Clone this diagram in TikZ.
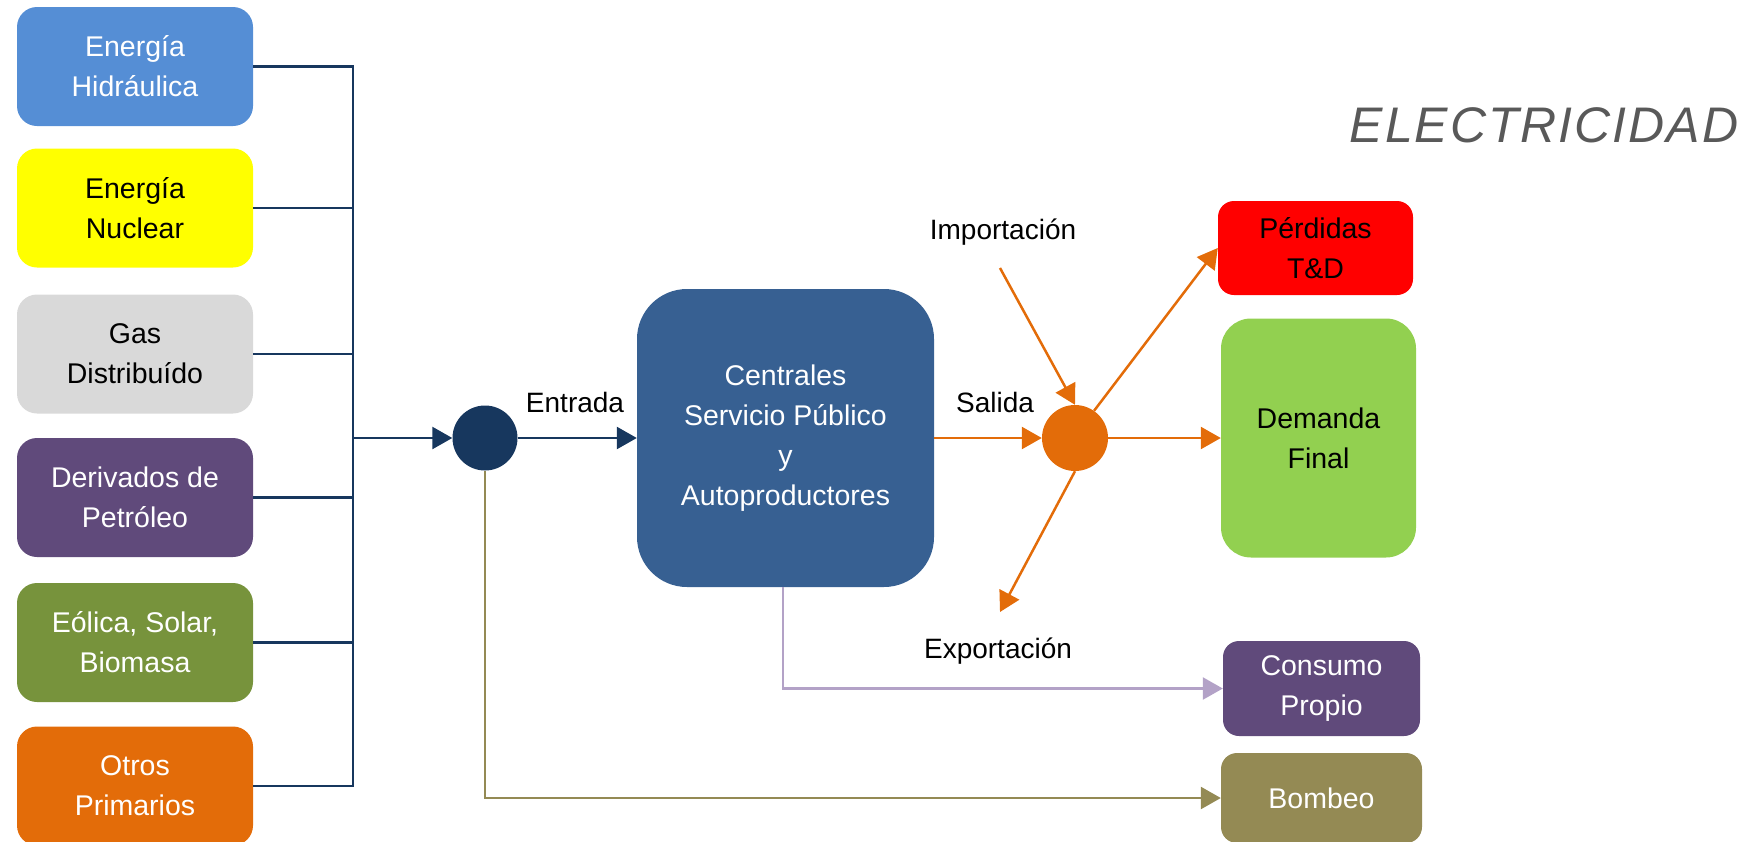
\documentclass[tikz,border=0pt]{standalone}
\usepackage{fontspec}
\setmainfont{Liberation Sans}
\newfontfamily\boxfont{Liberation Sans}
\newfontfamily\titlefont[LetterSpace=4]{Liberation Sans}
\usetikzlibrary{arrows.meta}

\definecolor{hidro}{HTML}{558ED5}
\definecolor{nuclear}{HTML}{FFFF00}
\definecolor{gasd}{HTML}{D9D9D9}
\definecolor{petro}{HTML}{604A7B}
\definecolor{renov}{HTML}{77933C}
\definecolor{otros}{HTML}{E36C09}
\definecolor{central}{HTML}{376092}
\definecolor{navy}{HTML}{17375E}
\definecolor{perd}{HTML}{FF0000}
\definecolor{demanda}{HTML}{92D050}
\definecolor{consumo}{HTML}{604A7B}
\definecolor{bombeo}{HTML}{948A54}
\definecolor{lavender}{HTML}{B3A2C7}
\definecolor{titlegray}{HTML}{595959}

\begin{document}
\begin{tikzpicture}[x=1pt,y=-1pt,
  box/.style={rectangle, rounded corners=20pt, inner sep=0pt, align=center,
    font=\boxfont\fontsize{28.5}{40}\selectfont},
  srcbox/.style={box, minimum width=236pt, minimum height=119pt},
  lbl/.style={font=\boxfont\fontsize{28}{34}\selectfont, inner sep=0pt},
  tip/.style={-{Triangle[length=20pt,width=22pt]}},
  navyline/.style={draw=navy, line width=2.5pt},
  orangeline/.style={draw=otros, line width=2.5pt, tip},
]
\useasboundingbox (0,0) rectangle (1761,841);

% source boxes
\node[srcbox, fill=hidro, text=white]   (hid) at (135,66.5) {Energía\\Hidráulica};
\node[srcbox, fill=nuclear, text=black] (nuc) at (135,208)  {Energía\\Nuclear};
\node[srcbox, fill=gasd, text=black]    (gas) at (135,354)  {Gas\\Distribuído};
\node[srcbox, fill=petro, text=white]   (pet) at (135,497.5) {Derivados de\\Petróleo};
\node[srcbox, fill=renov, text=white]   (ren) at (135,642.5) {Eólica, Solar,\\Biomasa};
\node[srcbox, fill=otros, text=white]   (otr) at (135,786)  {Otros\\Primarios};

% collector and plants
\coordinate (bus) at (353,438);
\node[circle, fill=navy, minimum size=65pt, inner sep=0pt] (c1) at (485,438) {};
\node[box, rounded corners=50pt, fill=central, text=white, minimum width=297pt,
  minimum height=298pt, font=\boxfont\fontsize{28.5}{40}\selectfont] (cen) at (785.5,438)
  {Centrales\\Servicio Público\\y\\Autoproductores};
\node[circle, fill=otros, minimum size=66pt, inner sep=0pt] (c2) at (1075,438) {};

% destinations
\node[box, rounded corners=16pt, fill=perd, text=black, minimum width=195pt, minimum height=94pt]
  (per) at (1315.5,248) {Pérdidas\\T\&D};
\node[box, rounded corners=30pt, fill=demanda, text=black, minimum width=195pt, minimum height=239pt]
  (dem) at (1318.5,438) {Demanda\\Final};
\node[box, rounded corners=16pt, fill=consumo, text=white, minimum width=197pt, minimum height=95pt]
  (con) at (1321.5,688.5) {Consumo\\Propio};
\node[box, rounded corners=16pt, fill=bombeo, text=white, minimum width=201pt, minimum height=90pt]
  (bom) at (1321.5,798) {Bombeo};

% labels
\node[lbl] (ent) at (575,402) {Entrada};
\node[lbl] (sal) at (995,402) {Salida};
\node[lbl] (imp) at (1003,232) {Importación};
\node[lbl] (exp) at (998,651) {Exportación};
\coordinate (impstart) at (1000,268);
\coordinate (expend) at (1000,612);

\node[font=\titlefont\fontsize{50}{60}\selectfont\itshape, text=titlegray, inner sep=0pt]
  (ttl) at (1544,125) {ELECTRICIDAD};

% source bus
\foreach \s in {hid,nuc,gas,pet,ren,otr}
  \draw[navyline] (\s.east) -| (bus);
\draw[navyline, tip] (bus) -- (c1.west);
\draw[navyline, tip] (c1.east) -- (cen.west);

% outputs
\draw[orangeline] (cen.east) -- (c2.west);
\draw[orangeline] (impstart) -- (c2.north);
\draw[orangeline] (c2.55) -- (per.west);
\draw[orangeline] (c2.east) -- (dem.west);
\draw[orangeline] (c2.south) -- (expend);

% own use and pumping
\draw[draw=lavender, line width=2.5pt, tip] ([xshift=-2.5pt]cen.south) |- (con.west);
\draw[draw=bombeo, line width=2.5pt, tip] (c1.south) |- (bom.west);
\end{tikzpicture}
\end{document}
